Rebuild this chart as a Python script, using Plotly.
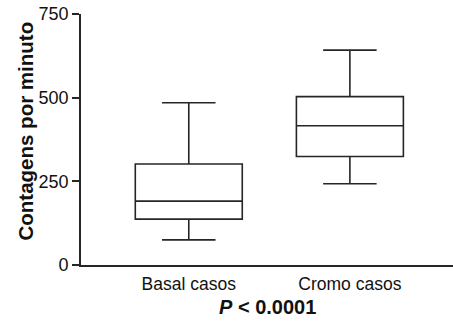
import plotly.graph_objects as go

categories = ["Basal casos", "Cromo casos"]
lower = [75, 243]
q1 = [137, 324]
median = [191, 416]
q3 = [302, 503]
upper = [485, 642]
y_ticks = [0, 250, 500, 750]

fig = go.Figure()
for i, c in enumerate(categories):
    fig.add_trace(go.Box(
        x=[c], q1=[q1[i]], median=[median[i]], q3=[q3[i]],
        lowerfence=[lower[i]], upperfence=[upper[i]],
        fillcolor="white", line=dict(color="#262626", width=1.6),
        width=0.664, whiskerwidth=0.5, boxpoints=False, showlegend=False,
    ))

font = "Liberation Sans, Arial, sans-serif"
fig.update_layout(
    width=453, height=322,
    margin=dict(l=81, r=0, t=14, b=57),
    plot_bgcolor="white", paper_bgcolor="white",
    font=dict(family=font, color="#111", size=17.5),
    xaxis=dict(
        categoryorder="array", categoryarray=categories,
        range=[-0.669, 1.64], showline=True, linecolor="#262626", linewidth=1.8,
        ticks="", showgrid=False, zeroline=False, automargin=False,
        ticklabelstandoff=2,
        tickfont=dict(size=17.5, family=font, color="#111"),
    ),
    yaxis=dict(
        range=[0, 750], tickvals=y_ticks, showline=True, linecolor="#262626", linewidth=1.8,
        ticks="outside", ticklen=7, tickwidth=1.5, tickcolor="#262626",
        showgrid=False, zeroline=False, automargin=False,
        tickfont=dict(size=18, family=font, color="#111"),
    ),
    annotations=[
        dict(text="<b>Contagens por minuto</b>", xref="paper", yref="paper",
             x=(24.5 - 81) / 372, y=(265 - 131) / 251, xanchor="center", yanchor="middle",
             textangle=-90, showarrow=False, font=dict(size=20.5, family=font, color="#111")),
        dict(text="<b><i>P</i> &lt; 0.0001</b>", xref="paper", yref="paper",
             x=(267.5 - 81) / 372, y=(265 - 307) / 251, xanchor="center", yanchor="middle",
             showarrow=False, font=dict(size=20, family=font, color="#111")),
    ],
)
fig.write_html("out.html")
